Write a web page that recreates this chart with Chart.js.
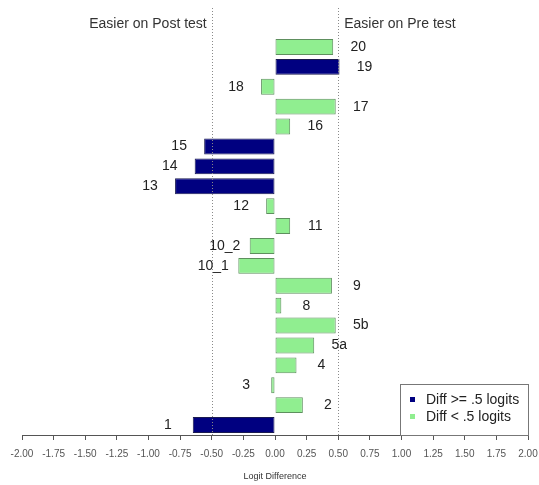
<!DOCTYPE html>
<html>
<head>
<meta charset="utf-8">
<script src="https://cdn.jsdelivr.net/npm/chart.js@4/dist/chart.umd.min.js"></script>
<style>
  html, body { margin: 0; padding: 0; background: #ffffff; }
  #wrap { width: 539px; height: 485px; position: relative; }
</style>
</head>
<body>
<div id="wrap"><canvas id="chart"></canvas></div>
<script>
// Items, listed top to bottom
const categories = ['20', '19', '18', '17', '16', '15', '14', '13', '12', '11',
                    '10_2', '10_1', '9', '8', '5b', '5a', '4', '3', '2', '1'];
// Logit difference (pre minus post) for each item
const logitDiff = [0.46, 0.51, -0.11, 0.48, 0.12, -0.56, -0.635, -0.79, -0.07, 0.12,
                   -0.20, -0.29, 0.45, 0.05, 0.48, 0.31, 0.17, -0.03, 0.22, -0.65];
const xTicks = [-2.00, -1.75, -1.50, -1.25, -1.00, -0.75, -0.50, -0.25, 0.00,
                0.25, 0.50, 0.75, 1.00, 1.25, 1.50, 1.75, 2.00];
const threshold = 0.5;
const sideHeaders = ['Easier on Post test', 'Easier on Pre test'];
const legendLabels = ['Diff >= .5 logits', 'Diff < .5 logits'];

const NAVY = '#000080', NAVY_EDGE = '#1a1a50';
const GREEN = '#90ee90', GREEN_EDGE = '#5e8f5e';
const FONT = '"Liberation Sans", Arial, sans-serif';

const isLarge = v => Math.abs(v) >= threshold;

// Dotted guide lines at +/- threshold, side headers, item labels and the key
const annotate = {
  id: 'annotate',
  afterDatasetsDraw(chart) {
    const {ctx, chartArea, scales: {x}} = chart;
    const meta = chart.getDatasetMeta(0);
    ctx.save();

    // guide lines
    ctx.strokeStyle = '#8a8a8a';
    ctx.lineWidth = 1;
    ctx.setLineDash([1, 2]);
    [-threshold, threshold].forEach(v => {
      const px = Math.round(x.getPixelForValue(v)) + 0.5;
      ctx.beginPath();
      ctx.moveTo(px, 8);
      ctx.lineTo(px, chartArea.bottom);
      ctx.stroke();
    });
    ctx.setLineDash([]);

    // side headers
    ctx.fillStyle = '#333333';
    ctx.font = '14px ' + FONT;
    ctx.textBaseline = 'middle';
    ctx.textAlign = 'right';
    ctx.fillText(sideHeaders[0], x.getPixelForValue(-threshold) - 5, 24);
    ctx.textAlign = 'left';
    ctx.fillText(sideHeaders[1], x.getPixelForValue(threshold) + 6, 24);

    // item labels beside each bar end
    ctx.textAlign = 'center';
    ctx.fillStyle = '#222222';
    meta.data.forEach((bar, i) => {
      const v = logitDiff[i];
      const endX = x.getPixelForValue(v);
      const lx = v >= 0 ? endX + 25 : endX - 25;
      ctx.fillText(categories[i], lx, bar.y);
    });

    // key
    const bx = 400.5, by = 384.5, bw = 128, bh = chartArea.bottom - 384;
    ctx.fillStyle = '#ffffff';
    ctx.fillRect(bx, by, bw, bh);
    ctx.strokeStyle = '#777777';
    ctx.strokeRect(bx, by, bw, bh);
    const swatches = [NAVY, GREEN];
    legendLabels.forEach((t, k) => {
      const ty = 400 + k * 17;
      ctx.fillStyle = swatches[k];
      ctx.fillRect(410, ty - 3, 5, 5);
      ctx.fillStyle = '#222222';
      ctx.textAlign = 'left';
      ctx.fillText(t, 426, ty);
    });

    ctx.restore();
  }
};

new Chart(document.getElementById('chart'), {
  type: 'bar',
  data: {
    labels: categories,
    datasets: [{
      data: logitDiff,
      backgroundColor: logitDiff.map(v => isLarge(v) ? NAVY : GREEN),
      borderColor: logitDiff.map(v => isLarge(v) ? NAVY_EDGE : GREEN_EDGE),
      borderWidth: 1,
      borderSkipped: false,
      categoryPercentage: 1.0,
      barPercentage: 0.8
    }]
  },
  options: {
    indexAxis: 'y',
    responsive: true,
    maintainAspectRatio: false,
    animation: false,
    devicePixelRatio: 1,
    layout: { padding: { top: 37, left: 22, right: 11, bottom: 0 } },
    plugins: { legend: { display: false }, tooltip: { enabled: false } },
    scales: {
      y: { display: false },
      x: {
        type: 'linear',
        min: -2,
        max: 2,
        afterBuildTicks(scale) { scale.ticks = xTicks.map(v => ({ value: v })); },
        afterFit(scale) {
          scale.height = 50;
          scale.paddingLeft = 0;
          scale.paddingRight = 0;
        },
        ticks: {
          autoSkip: false,
          maxRotation: 0,
          padding: 8,
          color: '#555555',
          font: { family: FONT, size: 10 },
          callback: v => Number(v).toFixed(2)
        },
        grid: { drawOnChartArea: false, drawTicks: true, tickLength: 5, color: '#555555' },
        border: { display: true, color: '#555555' },
        title: {
          display: true,
          text: 'Logit Difference',
          color: '#333333',
          font: { family: FONT, size: 9 },
          padding: { top: 4, bottom: 3 }
        }
      }
    }
  },
  plugins: [annotate]
});
</script>
</body>
</html>
